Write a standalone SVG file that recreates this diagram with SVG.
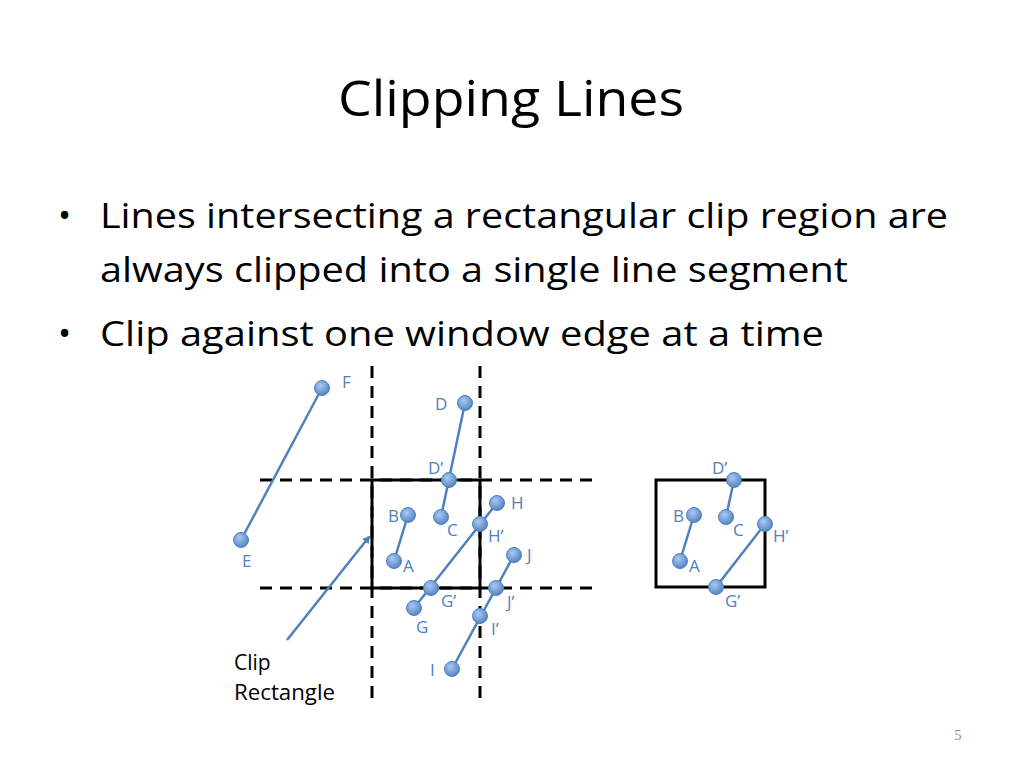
<svg xmlns="http://www.w3.org/2000/svg" width="1024" height="768" viewBox="0 0 1024 768">
<style>
text{font-family:"Open Sans","Liberation Sans",sans-serif}
.t{font-size:50px;fill:#000}
.b{font-size:35px;fill:#000}
.l{font-size:17px;fill:#4f81bd}
.k{font-size:21px;fill:#000}
.ln{stroke:#4f81bd;stroke-width:2.5;fill:none}
.d{stroke:#000;stroke-width:3;stroke-dasharray:12,8;fill:none}
.r{stroke:#000;stroke-width:3;fill:none}
circle{r:7.5px;fill:url(#g);stroke:#4f81bd;stroke-width:1}
</style>
<defs><marker id="ah" markerWidth="8" markerHeight="8" refX="6" refY="4" orient="auto" markerUnits="userSpaceOnUse"><path d="M0,0L8,4L0,8z" fill="#4f81bd"/></marker>
<radialGradient id="g" cx="0.4" cy="0.35" r="0.7"><stop offset="0" stop-color="#a9c8f5"/><stop offset="1" stop-color="#4f81bd"/></radialGradient></defs>
<rect width="1024" height="768" fill="#fff"/>
<text class="t" x="338" y="116" textLength="346" lengthAdjust="spacingAndGlyphs">Clipping Lines</text>
<text class="b" x="58" y="228">•</text><text class="b" x="100" y="228" textLength="848" lengthAdjust="spacingAndGlyphs">Lines intersecting a rectangular clip region are</text>
<text class="b" x="100" y="282" textLength="748" lengthAdjust="spacingAndGlyphs">always clipped into a single line segment</text>
<text class="b" x="58" y="346">•</text><text class="b" x="100" y="346" textLength="724" lengthAdjust="spacingAndGlyphs">Clip against one window edge at a time</text>
<g id="guides">
<line class="d" x1="372" y1="366" x2="372" y2="700"/>
<line class="d" x1="480" y1="366" x2="480" y2="700"/>
<line class="d" x1="260" y1="480" x2="592" y2="480"/>
<line class="d" x1="260" y1="588" x2="592" y2="588"/>
<rect class="r" x="372" y="480" width="108" height="108"/>
<rect class="r" x="656" y="480" width="109" height="107"/>
</g>
<g id="connectors">
<line class="ln" x1="322" y1="388" x2="241" y2="540"/>
<line class="ln" x1="465" y1="403" x2="441" y2="517"/>
<line class="ln" x1="408" y1="515" x2="394" y2="561"/>
<line class="ln" x1="497" y1="503" x2="414" y2="608"/>
<line class="ln" x1="514" y1="555" x2="452" y2="669"/>
<line class="ln" x1="287" y1="640" x2="369" y2="537" marker-end="url(#ah)"/>
<line class="ln" x1="734" y1="480" x2="726" y2="517"/>
<line class="ln" x1="694" y1="515" x2="680" y2="561"/>
<line class="ln" x1="765" y1="524" x2="716" y2="587"/>
</g>
<g id="points">
<circle cx="322" cy="388" r="7.5"/><circle cx="241" cy="540" r="7.5"/>
<circle cx="465" cy="403" r="7.5"/><circle cx="449" cy="480" r="7.5"/>
<circle cx="441" cy="517" r="7.5"/><circle cx="408" cy="515" r="7.5"/>
<circle cx="394" cy="561" r="7.5"/><circle cx="497" cy="503" r="7.5"/>
<circle cx="480" cy="524" r="7.5"/><circle cx="431" cy="588" r="7.5"/>
<circle cx="414" cy="608" r="7.5"/><circle cx="514" cy="555" r="7.5"/>
<circle cx="496" cy="588" r="7.5"/><circle cx="480" cy="616" r="7.5"/>
<circle cx="452" cy="669" r="7.5"/>
<circle cx="734" cy="480" r="7.5"/><circle cx="726" cy="517" r="7.5"/>
<circle cx="694" cy="515" r="7.5"/><circle cx="680" cy="561" r="7.5"/>
<circle cx="765" cy="524" r="7.5"/><circle cx="716" cy="587" r="7.5"/>
</g>
<g id="labels">
<text class="l" x="342" y="388">F</text><text class="l" x="242" y="567">E</text>
<text class="l" x="435" y="410">D</text><text class="l" x="428" y="474">D’</text>
<text class="l" x="447" y="536">C</text><text class="l" x="388" y="522">B</text>
<text class="l" x="403" y="572">A</text><text class="l" x="511" y="509">H</text>
<text class="l" x="488" y="542">H’</text><text class="l" x="441" y="607">G’</text>
<text class="l" x="416" y="633">G</text><text class="l" x="527" y="561">J</text>
<text class="l" x="507" y="608">J’</text><text class="l" x="491" y="635">I’</text>
<text class="l" x="430" y="676">I</text>
<text class="l" x="712" y="474">D’</text><text class="l" x="733" y="536">C</text>
<text class="l" x="673" y="522">B</text><text class="l" x="689" y="572">A</text>
<text class="l" x="773" y="542">H’</text><text class="l" x="725" y="607">G’</text>
<text class="k" x="234" y="670">Clip</text><text class="k" x="234" y="700" textLength="101" lengthAdjust="spacingAndGlyphs">Rectangle</text>
<text x="958" y="740" style="font-family:'Liberation Serif',serif;font-size:14px;fill:#888" text-anchor="middle">5</text>
</g>
</svg>
